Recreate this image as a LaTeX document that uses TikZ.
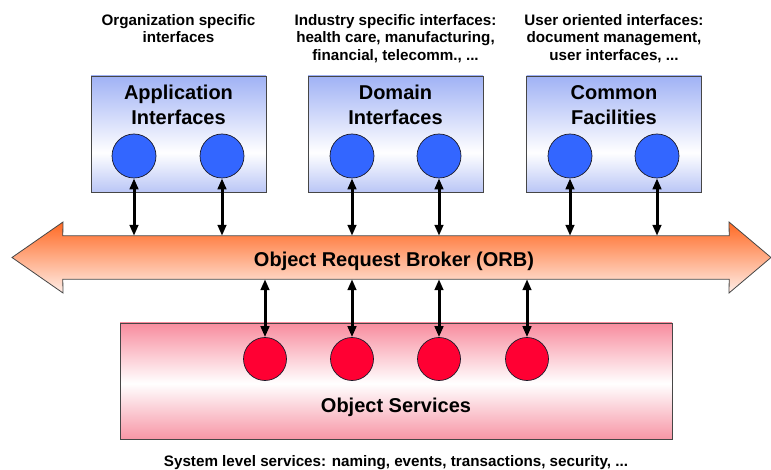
\documentclass[tikz,border=0pt]{standalone}
\usepackage{fontspec}
\setmainfont{Liberation Sans}
\usetikzlibrary{arrows.meta}

% palette
\definecolor{ifblueT}{RGB}{160,178,245}
\definecolor{ifblueB}{RGB}{186,198,246}
\definecolor{svcpinkT}{RGB}{248,140,158}
\definecolor{svcpinkB}{RGB}{247,150,166}
\definecolor{orbtop}{RGB}{255,105,35}
\definecolor{orbbot}{RGB}{255,238,232}
\definecolor{dotblue}{RGB}{51,102,255}
\definecolor{dotred}{RGB}{255,0,51}
\definecolor{boxline}{RGB}{70,70,70}
\definecolor{dotline}{RGB}{25,25,40}

% vertical fills (relevant band is 25bp..75bp)
\pgfdeclareverticalshading{ifshade}{100bp}{color(0bp)=(ifblueB); color(25bp)=(ifblueB); color(42bp)=(white); color(75bp)=(ifblueT); color(100bp)=(ifblueT)}
\pgfdeclareverticalshading{svcshade}{100bp}{color(0bp)=(svcpinkB); color(25bp)=(svcpinkB); color(49bp)=(white); color(75bp)=(svcpinkT); color(100bp)=(svcpinkT)}

\begin{document}
\begin{tikzpicture}[x=1pt,y=-1pt,
  ifbox/.style={draw=boxline, line width=0.9pt, shading=ifshade, minimum width=175pt, minimum height=116pt, inner sep=0pt},
  svcbox/.style={draw=boxline, line width=0.9pt, shading=svcshade, minimum width=552pt, minimum height=116pt, inner sep=0pt},
  bluedot/.style={circle, draw=dotline, line width=0.7pt, fill=dotblue, minimum size=44pt, inner sep=0pt},
  reddot/.style={circle, draw=dotline, line width=0.7pt, fill=dotred, minimum size=43pt, inner sep=0pt},
  orbshaft/.style={minimum width=666pt, minimum height=43pt, inner sep=0pt},
  orbarrow/.style={draw=boxline, line width=0.8pt, top color=orbtop, bottom color=orbbot},
  title/.style={font=\fontsize{20}{25}\selectfont\bfseries, align=center, inner sep=0pt},
  note/.style={font=\fontsize{15.2}{17.5}\selectfont\bfseries, align=center, inner sep=0pt},
  link/.style={{Triangle[length=11pt,width=8.5pt]}-{Triangle[length=11pt,width=8.5pt]}, line width=3pt}
]
\useasboundingbox (0,0) rectangle (771,470);

% notes above the interface groups
\node[note, anchor=north] (noteA) at (178.5,14) {Organization specific\\interfaces};
\node[note, anchor=north] (noteD) at (395.5,14) {Industry specific interfaces:\\health care, manufacturing,\\financial, telecomm., ...};
\node[note, anchor=north] (noteC) at (614,14) {User oriented interfaces:\\document management,\\user interfaces, ...};

% interface groups
\node[ifbox] (app) at (178.5,134) {};
\node[ifbox] (dom) at (395.5,134) {};
\node[ifbox] (com) at (614,134) {};
\node[title] (appT) at (178.5,105) {Application\\Interfaces};
\node[title] (domT) at (395.5,105) {Domain\\Interfaces};
\node[title] (comT) at (614,105) {Common\\Facilities};

\node[bluedot] (a1) at (134,156) {};
\node[bluedot] (a2) at (222,156) {};
\node[bluedot] (d1) at (352,156) {};
\node[bluedot] (d2) at (439,156) {};
\node[bluedot] (c1) at (570,156) {};
\node[bluedot] (c2) at (657,156) {};

% the broker: a two-headed band
\node[orbshaft] (orb) at (396,257.5) {};
\draw[orbarrow] (12,257.5) -- (63,222) -- (orb.north west) -- (orb.north east)
  -- (729,222) -- (771,257.5) -- (729,293) -- (orb.south east)
  -- (orb.south west) -- (63,293) -- cycle;
\node[title, anchor=base] (orbT) at (394,267) {Object Request Broker (ORB)};

% services
\node[svcbox] (svc) at (396,381) {};
\node[reddot] (s1) at (265,359) {};
\node[reddot] (s2) at (352,359) {};
\node[reddot] (s3) at (439,359) {};
\node[reddot] (s4) at (527,359) {};
\node[title, anchor=base] (svcT) at (396,412) {Object Services};
\node[note, anchor=base] (svcNote) at (396,466) {System level services: naming, events, transactions, security, ...};

% connectors
\foreach \c in {a1,a2,d1,d2,c1,c2}
  \draw[link] (\c.south) -- (\c.south |- orb.north);
\foreach \c in {s1,s2,s3,s4}
  \draw[link] (\c.north |- orb.south) -- (\c.north);
\end{tikzpicture}
\end{document}
